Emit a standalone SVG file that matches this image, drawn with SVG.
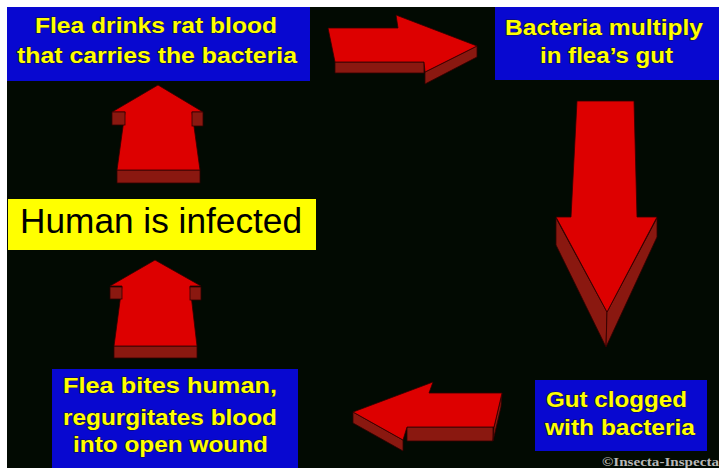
<svg xmlns="http://www.w3.org/2000/svg" width="719" height="468" viewBox="0 0 719 468">
<style>
.box{fill:#0808d0}
.lbl{font-family:"Liberation Sans",Arial,sans-serif;font-weight:bold;font-size:22px;fill:#ffff00;stroke:#10104a;stroke-width:1.2px;paint-order:stroke;text-anchor:start}
.face{fill:#dd0000;stroke:#300000;stroke-width:0.8}
.side{fill:#8a1810;stroke:#300000;stroke-width:0.8}
</style>
<rect x="0" y="0" width="719" height="468" fill="#ffffff"/>
<rect x="7" y="7" width="712" height="461" fill="#020a02"/>
<g id="connectors">
  <g id="arrow-right">
    <polygon class="side" points="335,62 424,62 424,73 335,73"/>
    <polygon class="side" points="425,72 477,46 477,57 425,84"/>
    <polygon class="face" points="328,28 398,28 396,15 477,46 425,72 424,62 335,62"/>
  </g>
  <g id="arrow-down">
    <polygon class="side" points="556,218 607,312 606,347 556,245"/>
    <polygon class="side" points="657,218 607,312 606,347 657,237"/>
    <polygon class="face" points="577,101 634,101 637,217 657,217 607,312 556,217 571,217"/>
  </g>
  <g id="arrow-left">
    <polygon class="side" points="353,412 403,440 403,451 353,423"/>
    <polygon class="side" points="407,427 493,427 493,441 407,441"/>
    <polygon class="side" points="502,393 494,427 493,441 501,407"/>
    <polygon class="face" points="353,412 433,382 429,393 502,393 494,427 407,427 403,440"/>
  </g>
  <g id="arrow-up-1">
    <rect class="side" x="117" y="170" width="83" height="13"/>
    <polygon class="face" points="158,85 203,112 192,112 200,170 117,170 125,112 112,112"/>
    <rect class="side" x="112" y="112" width="13" height="13"/>
    <rect class="side" x="192" y="112" width="11" height="14"/>
  </g>
  <g id="arrow-up-2">
    <rect class="side" x="114" y="346" width="83" height="12"/>
    <polygon class="face" points="155,260 201,286 190,286 197,346 114,346 122,286 110,286"/>
    <rect class="side" x="110" y="287" width="12" height="12"/>
    <rect class="side" x="190" y="287" width="11" height="13"/>
  </g>
</g>
<g id="node-flea-drinks">
  <rect class="box" x="7" y="7" width="303" height="74"/>
  <text class="lbl" x="35" y="33" textLength="242" lengthAdjust="spacingAndGlyphs">Flea drinks rat blood</text>
  <text class="lbl" x="17" y="63" textLength="280" lengthAdjust="spacingAndGlyphs">that carries the bacteria</text>
</g>
<g id="node-bacteria-multiply">
  <rect class="box" x="495" y="7" width="224" height="73"/>
  <text class="lbl" x="505" y="35" textLength="198" lengthAdjust="spacingAndGlyphs">Bacteria multiply</text>
  <text class="lbl" x="540" y="63" textLength="133" lengthAdjust="spacingAndGlyphs">in flea’s gut</text>
</g>
<g id="node-gut-clogged">
  <rect class="box" x="535" y="380" width="172" height="71"/>
  <text class="lbl" x="546" y="407" textLength="141" lengthAdjust="spacingAndGlyphs">Gut clogged</text>
  <text class="lbl" x="545" y="435" textLength="150" lengthAdjust="spacingAndGlyphs">with bacteria</text>
</g>
<g id="node-flea-bites">
  <rect class="box" x="52" y="369" width="246" height="99"/>
  <text class="lbl" x="63" y="393" textLength="214" lengthAdjust="spacingAndGlyphs">Flea bites human,</text>
  <text class="lbl" x="63" y="425" textLength="214" lengthAdjust="spacingAndGlyphs">regurgitates blood</text>
  <text class="lbl" x="73" y="452" textLength="195" lengthAdjust="spacingAndGlyphs">into open wound</text>
</g>
<g id="node-human-infected">
  <rect x="8" y="199" width="308" height="51" fill="#ffff00"/>
  <text x="20" y="233" font-family="Liberation Sans, Arial, sans-serif" font-size="35" fill="#000000" textLength="282" lengthAdjust="spacingAndGlyphs">Human is infected</text>
</g>
<text x="602" y="466" font-family="Liberation Serif, Times New Roman, serif" font-weight="bold" font-size="13" fill="#b8b8b8" textLength="117" lengthAdjust="spacingAndGlyphs">©Insecta-Inspecta</text>
</svg>
